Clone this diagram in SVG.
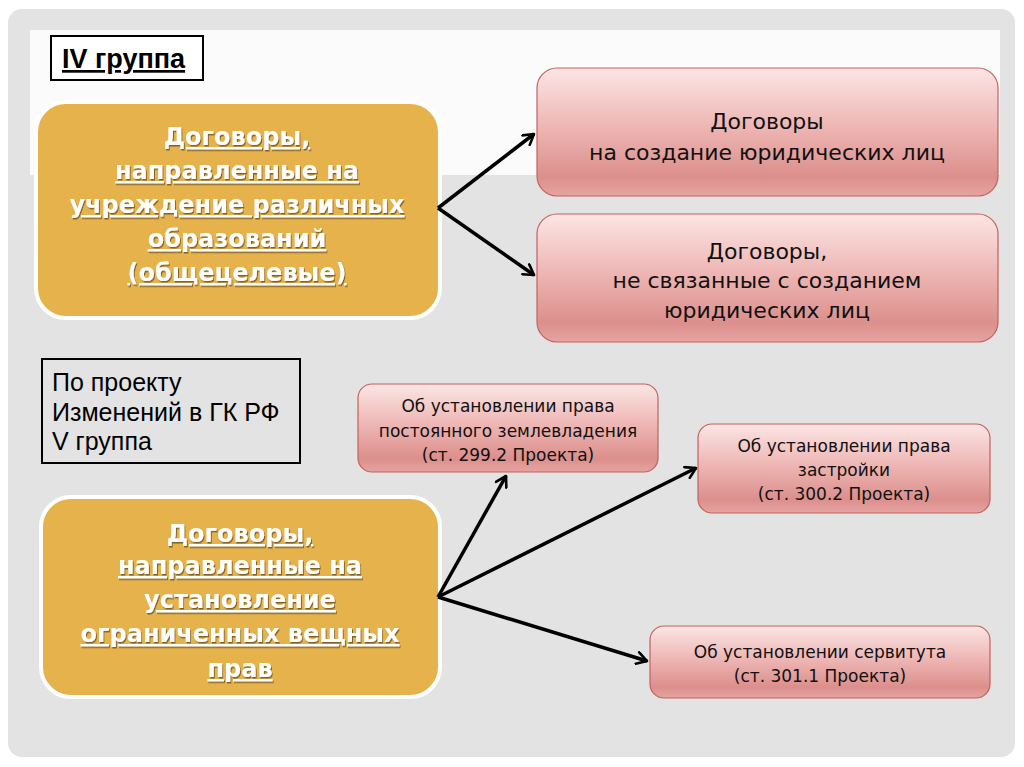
<svg xmlns="http://www.w3.org/2000/svg" width="1024" height="767" viewBox="0 0 1024 767">
<defs>
<linearGradient id="rg" x1="0" y1="0" x2="0" y2="1">
<stop offset="0" stop-color="#fbe6e5"/>
<stop offset="0.45" stop-color="#eeb7b5"/>
<stop offset="0.85" stop-color="#dc8f8c"/>
<stop offset="1" stop-color="#e6a4a2"/>
</linearGradient>
<filter id="sh" x="-10%" y="-10%" width="120%" height="130%">
<feDropShadow dx="1" dy="1.5" stdDeviation="0.6" flood-color="#000" flood-opacity="0.45"/>
</filter>
<marker id="ah" viewBox="0 0 14 14" refX="12" refY="7" markerWidth="14" markerHeight="14" markerUnits="userSpaceOnUse" orient="auto">
<path d="M2,1 L12,7 L2,13" fill="none" stroke="#000" stroke-width="2.6" stroke-linecap="round" stroke-linejoin="round"/>
</marker>
</defs>
<style>
.gold{fill:#e6b24b;stroke:#ffffff;stroke-width:4}
.red{fill:url(#rg);stroke:#c4615e;stroke-width:1.2}
.gt{font-family:"DejaVu Sans",sans-serif;font-weight:bold;font-size:24px;fill:#fff;text-anchor:middle;text-decoration:underline;filter:url(#sh)}
.rt{font-family:"DejaVu Sans",sans-serif;fill:#111;text-anchor:middle}
.conn line{stroke:#000;stroke-width:3.5;marker-end:url(#ah)}
</style>
<rect x="0" y="0" width="1024" height="767" fill="#fff"/>
<rect x="8" y="9" width="1007" height="748" rx="14" fill="#e3e3e3"/>
<rect x="30" y="30" width="970" height="145" fill="#fbfbfb"/>

<g id="title">
<rect x="51" y="36" width="152" height="44" fill="#fff" stroke="#000" stroke-width="2"/>
<text x="62" y="68" font-family="Liberation Sans, Arial, sans-serif" font-weight="bold" font-size="27" text-decoration="underline" fill="#000">IV группа</text>
</g>

<g id="gold1">
<rect x="36" y="102" width="404" height="216" rx="30" class="gold"/>
<text class="gt"><tspan x="237" y="145">Договоры,</tspan><tspan x="237" y="179">направленные на</tspan><tspan x="237" y="213">учреждение различных</tspan><tspan x="237" y="247">образований</tspan><tspan x="237" y="281">(общецелевые)</tspan></text>
</g>

<g id="red1">
<rect x="537" y="68" width="461" height="128" rx="20" class="red"/>
<text class="rt" font-size="22"><tspan x="767" y="129">Договоры</tspan><tspan x="767" y="160">на создание юридических лиц</tspan></text>
</g>

<g id="red2">
<rect x="537" y="214" width="461" height="128" rx="20" class="red"/>
<text class="rt" font-size="22"><tspan x="767" y="259">Договоры,</tspan><tspan x="767" y="288">не связанные с созданием</tspan><tspan x="767" y="318">юридических лиц</tspan></text>
</g>

<g id="note">
<rect x="42" y="359" width="258" height="104" fill="none" stroke="#000" stroke-width="2"/>
<text font-family="Liberation Sans, Arial, sans-serif" font-size="25" fill="#000"><tspan x="52" y="391">По проекту</tspan><tspan x="52" y="421">Изменений в ГК РФ</tspan><tspan x="52" y="450">V группа</tspan></text>
</g>

<g id="red3">
<rect x="358" y="384" width="300" height="88" rx="14" class="red"/>
<text class="rt" font-size="17"><tspan x="508" y="412">Об установлении права</tspan><tspan x="508" y="437">постоянного землевладения</tspan><tspan x="508" y="461">(ст. 299.2 Проекта)</tspan></text>
</g>

<g id="red4">
<rect x="698" y="424" width="292" height="89" rx="14" class="red"/>
<text class="rt" font-size="17"><tspan x="844" y="452">Об установлении права</tspan><tspan x="844" y="476">застройки</tspan><tspan x="844" y="500">(ст. 300.2 Проекта)</tspan></text>
</g>

<g id="red5">
<rect x="650" y="626" width="340" height="72" rx="14" class="red"/>
<text class="rt" font-size="17"><tspan x="820" y="658">Об установлении сервитута</tspan><tspan x="820" y="682">(ст. 301.1 Проекта)</tspan></text>
</g>

<g id="gold2">
<rect x="41" y="497" width="399" height="200" rx="30" class="gold"/>
<text class="gt"><tspan x="240" y="542">Договоры,</tspan><tspan x="240" y="574">направленные на</tspan><tspan x="240" y="608">установление</tspan><tspan x="240" y="642">ограниченных вещных</tspan><tspan x="240" y="677">прав</tspan></text>
</g>

<g id="connectors" class="conn">
<line x1="438" y1="208" x2="534" y2="134"/>
<line x1="438" y1="208" x2="534" y2="275"/>
<line x1="438" y1="597" x2="506" y2="476"/>
<line x1="438" y1="597" x2="696" y2="468"/>
<line x1="438" y1="597" x2="647" y2="661"/>
</g>
</svg>
